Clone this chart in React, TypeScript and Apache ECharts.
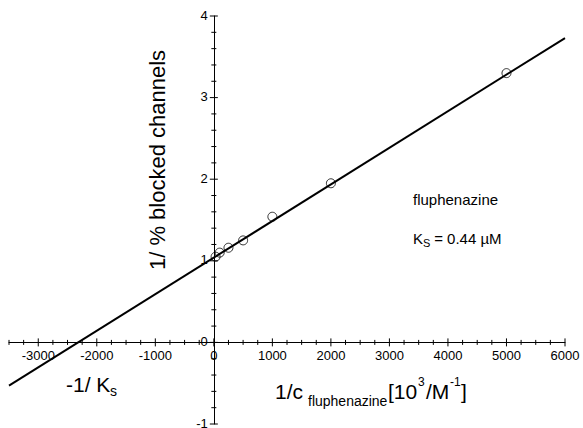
import React, { useEffect, useRef } from "react";
import * as echarts from "echarts";

// Measured data: 1/c (10^3/M^-1) vs 1/% blocked channels
const concInv = [30, 100, 250, 500, 1000, 2000, 5000];
const blockedInv = [1.05, 1.1, 1.16, 1.25, 1.54, 1.95, 3.3];

// Fitted regression line endpoints
const fitX = [-3500, 6000];
const fitY = [-0.53, 3.73];

const xRange = [-3500, 6000];
const yRange = [-1, 4];

// Tick labels
const xTickLabels = [-3000, -2000, -1000, 0, 1000, 2000, 3000, 4000, 5000, 6000];
const yTickLabels = [-1, 0, 1, 2, 3, 4];

// Tick spacing (major / minor)
const xMajorStep = 1000;
const xMinorStep = 250;
const yMajorStep = 1;
const yMinorStep = 0.2;

const FONT = "'Liberation Sans', Arial, Helvetica, sans-serif";

function steps(min: number, max: number, step: number) {
  const out: number[] = [];
  const n = Math.round((max - min) / step);
  for (let i = 0; i <= n; i++) out.push(+(min + i * step).toFixed(6));
  return out;
}
function isMultiple(v: number, step: number) {
  const r = Math.abs(v / step - Math.round(v / step));
  return r < 1e-6;
}

export default function App() {
  const ref = useRef<HTMLDivElement>(null);

  useEffect(() => {
    if (!ref.current) return;
    const chart = echarts.init(ref.current, null, { renderer: "svg" });

    const xTicks = steps(xRange[0], xRange[1], xMinorStep);
    const yTicks = steps(yRange[0], yRange[1], yMinorStep);
    // [x, y, kind(0 xtick,1 ytick,2 xlabel,3 ylabel), major]
    const axisMarks: any[] = [
      ...xTicks.map((v) => [v, 0, 0, isMultiple(v, xMajorStep) ? 1 : 0]),
      ...yTicks.map((v) => [0, v, 1, isMultiple(v, yMajorStep) ? 1 : 0]),
      ...xTickLabels.map((v) => [v, 0, 2, 1]),
      ...yTickLabels.map((v) => [0, v, 3, 1]),
    ];

    const txt = (x: number, y: number, text: string, size: number, extra: any = {}) => ({
      type: "text",
      x,
      y,
      style: {
        text,
        fontSize: size,
        fontFamily: FONT,
        fill: "#000",
        verticalAlign: "middle",
        align: "left",
        ...extra,
      },
    });

    chart.setOption({
      animation: false,
      backgroundColor: "#fff",
      grid: { left: 9, right: 18, top: 16, bottom: 4, containLabel: false, outerBoundsMode: "none" },
      xAxis: {
        type: "value",
        min: xRange[0],
        max: xRange[1],
        interval: 500,
        splitLine: { show: false },
        axisLine: { show: true, onZero: true, lineStyle: { color: "#000", width: 1 } },
        axisTick: { show: false },
        minorTick: { show: false },
        axisLabel: { show: false },
      },
      yAxis: {
        type: "value",
        min: yRange[0],
        max: yRange[1],
        interval: yMajorStep,
        splitLine: { show: false },
        axisLine: { show: true, onZero: true, lineStyle: { color: "#000", width: 1 } },
        axisTick: { show: false },
        minorTick: { show: false },
        axisLabel: { show: false },
      },
      series: [
        {
          type: "custom",
          coordinateSystem: "cartesian2d",
          silent: true,
          clip: false,
          data: axisMarks,
          encode: { x: 0, y: 1 },
          renderItem: (params: any, api: any) => {
            const v0 = api.value(0);
            const v1 = api.value(1);
            const kind = api.value(2);
            const p = api.coord([v0, v1]);
            if (kind === 0 || kind === 1) {
              const half = api.value(3) === 1 ? 4 : 2.5;
              const shape =
                kind === 1
                  ? { x1: p[0] - half, y1: p[1], x2: p[0] + half, y2: p[1] }
                  : { x1: p[0], y1: p[1] - half, x2: p[0], y2: p[1] + half };
              return { type: "line", shape, style: { stroke: "#000", lineWidth: 1 } };
            }
            if (kind === 2) {
              return {
                type: "text",
                x: p[0],
                y: p[1] + 7,
                style: {
                  text: String(v0),
                  fontSize: 13,
                  fontFamily: FONT,
                  fill: "#000",
                  align: "center",
                  verticalAlign: "top",
                },
              };
            }
            return {
              type: "text",
              x: p[0] - 6,
              y: p[1] - 1,
              style: {
                text: String(v1),
                fontSize: 13,
                fontFamily: FONT,
                fill: "#000",
                align: "right",
                verticalAlign: "middle",
              },
            };
          },
          z: 2,
        },
        {
          type: "line",
          data: fitX.map((x, i) => [x, fitY[i]]),
          showSymbol: false,
          symbol: "none",
          lineStyle: { color: "#000", width: 2 },
          silent: true,
          z: 3,
        },
        {
          type: "scatter",
          data: concInv.map((x, i) => [x, blockedInv[i]]),
          symbol: "circle",
          symbolSize: 9,
          itemStyle: { color: "rgba(255,255,255,0)", borderColor: "#000", borderWidth: 1 },
          z: 4,
        },
      ],
      graphic: [
        {
          type: "text",
          x: 157,
          y: 160,
          rotation: Math.PI / 2,
          style: {
            text: "1/ % blocked channels",
            fontSize: 22,
            fontFamily: FONT,
            fill: "#000",
            align: "center",
            verticalAlign: "middle",
          },
        },
        txt(275, 391, "1/c", 21),
        txt(308, 401, "fluphenazine", 14),
        txt(388, 391, "[10", 21),
        txt(418, 382, "3", 12),
        txt(426, 391, "/M", 21),
        txt(450, 382, "-1", 12),
        txt(461, 391, "]", 21),
        txt(66, 384, "-1/ K", 21),
        txt(110, 391, "s", 14),
        txt(413, 199, "fluphenazine", 15),
        txt(413, 238, "K", 15),
        txt(423, 243, "S", 11),
        txt(430, 238, " = 0.44 µM", 15),
      ],
    });

    return () => chart.dispose();
  }, []);

  return (
    <div
      ref={ref}
      style={{ position: "fixed", left: 0, top: 0, width: 583, height: 428 }}
    />
  );
}
